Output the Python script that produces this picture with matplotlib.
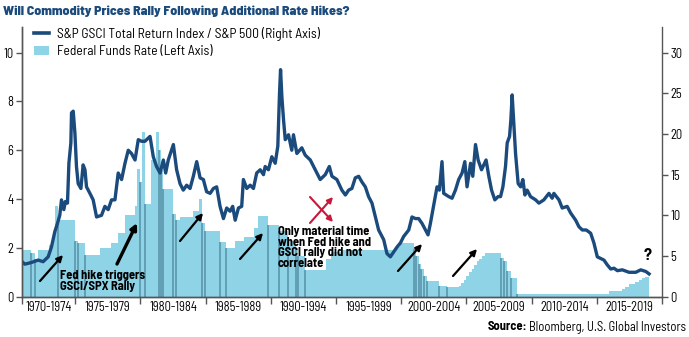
import numpy as np
import matplotlib.pyplot as plt
from matplotlib.patches import Patch
from matplotlib.lines import Line2D

plt.rcParams['font.family'] = ['Barlow Semi Condensed', 'Liberation Sans', 'DejaVu Sans']

# S&P GSCI TR / S&P 500 ratio (right axis)
ratio_year = [1970.93, 1971.14, 1971.64, 1972.16, 1972.54, 1972.93, 1973.18, 1973.44, 1973.64, 1973.82,
              1973.95, 1974.13, 1974.25, 1974.41, 1974.52, 1974.67, 1974.72, 1974.85, 1974.98, 1975.10,
              1975.23, 1975.44, 1975.61, 1975.75, 1975.87, 1976.13, 1976.38, 1976.64, 1977.02, 1977.28,
              1977.53, 1977.79, 1978.05, 1978.30, 1978.56, 1978.82, 1979.07, 1979.32, 1979.59, 1979.84,
              1980.09, 1980.35, 1980.74, 1980.99, 1981.24, 1981.51, 1981.76, 1981.94, 1982.14, 1982.53,
              1982.78, 1983.04, 1983.29, 1983.55, 1983.81, 1984.06, 1984.32, 1984.58, 1984.83, 1985.08,
              1985.35, 1985.60, 1985.85, 1986.11, 1986.37, 1986.62, 1986.88, 1987.08, 1987.27, 1987.52,
              1987.77, 1987.90, 1988.16, 1988.42, 1988.67, 1988.92, 1989.19, 1989.44, 1989.57, 1989.82,
              1990.08, 1990.34, 1990.54, 1990.67, 1990.75, 1990.85, 1990.98, 1991.11, 1991.36, 1991.61,
              1991.74, 1992.00, 1992.38, 1992.64, 1993.03, 1993.41, 1993.79, 1994.18, 1994.49, 1994.69,
              1995.07, 1995.45, 1995.72, 1995.97, 1996.22, 1996.48, 1996.74, 1996.99, 1997.25, 1997.50,
              1997.76, 1998.02, 1998.27, 1998.66, 1998.91, 1999.17, 1999.42, 1999.68, 1999.94, 2000.19,
              2000.58, 2000.83, 2001.09, 2001.34, 2001.60, 2001.86, 2002.06, 2002.24, 2002.50, 2002.75,
              2002.93, 2003.13, 2003.26, 2003.65, 2003.90, 2004.16, 2004.41, 2004.67, 2004.88, 2005.05,
              2005.32, 2005.49, 2005.70, 2005.90, 2006.16, 2006.51, 2006.72, 2006.93, 2007.18, 2007.43,
              2007.62, 2007.80, 2008.00, 2008.13, 2008.31, 2008.41, 2008.51, 2008.64, 2008.77, 2008.97,
              2009.16, 2009.33, 2009.49, 2009.66, 2009.92, 2010.31, 2010.56, 2010.94, 2011.33, 2011.58,
              2011.71, 2012.10, 2012.35, 2012.73, 2012.99, 2013.38, 2013.63, 2013.89, 2014.19, 2014.53,
              2014.78, 2015.04, 2015.30, 2015.55, 2015.81, 2016.07, 2016.32, 2016.58, 2016.96, 2017.47,
              2017.99, 2018.37, 2018.76, 2019.01]
ratio_val = [4.3, 4.0, 4.2, 4.5, 4.3, 4.9, 6.1, 8.0, 9.0, 10.0,
             11.9, 10.7, 11.7, 11.5, 16.4, 18.9, 22.6, 22.8, 20.1, 16.0,
             13.9, 13.3, 16.2, 15.6, 13.5, 12.7, 11.9, 9.8, 10.0, 11.1,
             10.7, 11.9, 11.9, 15.2, 14.4, 16.4, 18.0, 17.6, 16.8, 19.3,
             19.1, 19.1, 19.7, 17.2, 16.0, 15.2, 16.8, 15.2, 16.8, 18.7,
             15.6, 13.9, 13.1, 13.7, 13.3, 14.8, 16.6, 14.6, 14.4, 12.9,
             12.7, 13.3, 13.5, 11.1, 9.6, 10.9, 10.5, 11.1, 9.4, 10.9,
             11.1, 14.4, 13.3, 13.7, 13.3, 15.2, 15.6, 15.0, 16.0, 15.6,
             17.2, 16.4, 18.5, 25.0, 27.9, 24.6, 21.7, 19.3, 19.9, 18.0,
             19.9, 17.6, 18.3, 17.4, 16.8, 15.6, 14.4, 15.0, 16.0, 14.8,
             14.4, 13.1, 12.5, 13.1, 13.3, 14.6, 14.8, 14.1, 13.5, 12.3,
             11.5, 9.8, 8.2, 7.0, 5.3, 4.9, 5.5, 6.1, 6.6, 7.4,
             8.2, 9.8, 9.6, 9.6, 9.0, 8.2, 7.6, 9.0, 11.3, 13.5,
             13.1, 16.6, 12.7, 12.3, 12.1, 13.1, 14.4, 15.2, 16.6, 13.5,
             16.4, 14.8, 18.7, 16.8, 15.6, 16.8, 14.8, 13.1, 11.9, 12.3,
             12.3, 13.5, 16.0, 18.9, 19.7, 21.7, 24.8, 21.3, 17.6, 13.9,
             13.5, 14.4, 12.5, 13.1, 12.3, 11.9, 11.5, 11.9, 12.7, 12.1,
             12.7, 11.9, 10.9, 11.1, 10.3, 9.4, 8.6, 8.2, 8.2, 7.8,
             6.6, 4.9, 4.7, 4.5, 3.9, 3.4, 3.5, 3.2, 3.3, 3.0,
             3.0, 3.3, 3.1, 2.8]

# federal funds rate steps (left axis): start of each level and its value
fed_start = [1970.90, 1971.65, 1971.92, 1972.15, 1973.00, 1973.25, 1973.45, 1973.70, 1974.95, 1975.25,
             1975.75, 1976.90, 1977.75, 1978.30, 1978.80, 1979.55, 1979.75, 1979.95, 1980.15, 1980.35,
             1980.80, 1981.20, 1981.40, 1981.60, 1981.75, 1982.50, 1982.75, 1983.05, 1984.05, 1984.50,
             1984.70, 1984.95, 1986.10, 1986.55, 1987.25, 1987.95, 1988.75, 1989.05, 1989.82, 1990.60,
             1991.35, 1991.90, 1992.10, 1992.60, 1994.20, 1994.60, 1995.35, 1999.50, 1999.90, 2001.00,
             2001.15, 2001.35, 2001.55, 2001.75, 2001.95, 2002.90, 2003.50, 2004.45, 2004.60, 2004.80,
             2005.00, 2005.20, 2005.40, 2005.60, 2005.80, 2006.00, 2006.20, 2006.40, 2007.65, 2007.90,
             2008.10, 2008.40, 2008.90, 2015.95, 2016.95, 2017.20, 2017.45, 2017.95, 2018.20, 2018.45,
             2018.70]
fed_val = [1.90, 1.80, 1.55, 1.90, 2.10, 2.45, 3.70, 3.15, 2.30, 2.20,
           1.70, 2.00, 2.20, 2.60, 3.35, 3.70, 5.25, 4.70, 6.75, 3.80,
           5.60, 6.75, 6.00, 5.20, 4.40, 3.40, 3.15, 3.25, 3.50, 4.00,
           3.00, 2.70, 2.25, 2.00, 2.30, 2.45, 2.80, 3.30, 2.95, 2.70,
           2.30, 2.00, 1.65, 1.10, 1.55, 1.85, 1.90, 2.05, 2.20, 1.95,
           1.65, 1.35, 1.15, 0.85, 0.65, 0.44, 0.38, 0.42, 0.55, 0.70,
           0.85, 1.00, 1.15, 1.30, 1.45, 1.55, 1.65, 1.78, 1.60, 1.45,
           1.05, 0.75, 0.12, 0.22, 0.30, 0.40, 0.50, 0.60, 0.68, 0.75,
           0.82]
fed_end = 2019.0

period_labels = ["1970-1974", "1975-1979", "1980-1984", "1985-1989", "1990-1994",
                 "1995-1999", "2000-2004", "2005-2009", "2010-2014", "2015-2019"]

navy = "#1b4a7c"
light = "#8fd3e6"
dark = "#5f9ab0"
grey = "#555555"

fig = plt.figure(figsize=(6.89, 3.37), dpi=100)
ax = fig.add_axes([0.0315, 0.1196, 0.9293, 0.8004])
ax2 = ax.twinx()

starts = np.array(fed_start)
vals = np.array(fed_val)
widths = np.diff(np.append(starts, fed_end))
ax.bar(starts, vals, width=widths, align='edge', color=light, linewidth=0)
# darker streaks where the rate was cut
cut = np.r_[False, vals[1:] < vals[:-1]]
ax.vlines(starts[cut], 0, vals[cut], color=dark, linewidth=1.3)

ax2.plot(ratio_year, ratio_val, color=navy, linewidth=2.4, solid_joinstyle='round')

x0, x1 = 1970.9, 2020
ax.set_xlim(x0, x1)
ax.set_ylim(0, 11.05)
ax2.set_ylim(0, 33.15)

edges = [x0] + list(range(1975, 2020, 5)) + [x1]
ax.set_xticks(edges)
ax.set_xticklabels([])
mids = [(edges[i] + edges[i + 1]) / 2 for i in range(len(edges) - 1)]
ax.set_xticks(mids, minor=True)
ax.set_xticklabels(period_labels, minor=True, fontsize=9)
ax.tick_params(axis='x', which='major', length=5, width=1, color=grey, direction='out')
ax.tick_params(axis='x', which='minor', length=0, pad=3)

ax.set_yticks(range(0, 11, 2))
ax.tick_params(axis='y', length=4, width=1, color=grey, labelsize=9, pad=2)
ax2.set_yticks(range(0, 31, 5))
ax2.tick_params(axis='y', length=4, width=1, color=grey, labelsize=9, pad=2)

for a in (ax, ax2):
    a.spines['top'].set_visible(False)
    for s in ('left', 'right', 'bottom'):
        a.spines[s].set_color(grey)
        a.spines[s].set_linewidth(1)
ax.spines['right'].set_visible(False)

handles = [Line2D([], [], color=navy, linewidth=2.6),
           Patch(facecolor=light, edgecolor='none')]
labels = ["S&P GSCI Total Return Index / S&P 500 (Right Axis)", "Federal Funds Rate (Left Axis)"]
ax2.legend(handles, labels, loc='upper left', bbox_to_anchor=(34 / 689, 1 - 27 / 337),
           bbox_transform=fig.transFigure, frameon=False, fontsize=9.7, borderpad=0,
           borderaxespad=0, handlelength=1.15, handletextpad=0.55, labelspacing=0.3)

fig.text(3 / 689, 1 - 11.5 / 337, "Will Commodity Prices Rally Following Additional Rate Hikes?",
         fontsize=10.0, fontweight='heavy', color=navy, va='center', ha='left')

# annotations
fig.text(60, 337 - 270, "Fed hike triggers\nGSCI/SPX Rally", transform=None, fontsize=9,
         fontweight='bold', va='top', ha='left', linespacing=0.95)
fig.text(278, 337 - 226, "Only material time\nwhen Fed hike and\nGSCI rally did not\ncorrelate",
         transform=None, fontsize=9, fontweight='bold', va='top', ha='left', linespacing=0.95)
fig.text(648, 337 - 255, "?", transform=None, fontsize=12, fontweight='bold', va='center', ha='center')

arrows = [((40, 281), (63, 255), 1.6), ((117, 264), (137, 223), 2.4), ((180, 241), (203, 213), 1.6),
          ((240, 259), (263, 233), 1.6), ((398, 271), (422, 244), 1.6), ((453, 276), (477, 249), 1.6)]
for (xa, ya), (xb, yb), lw in arrows:
    ax.annotate("", xy=(xb, 337 - yb), xytext=(xa, 337 - ya), xycoords='figure pixels',
                textcoords='figure pixels',
                arrowprops=dict(arrowstyle='-|>', color='black', lw=lw, mutation_scale=9,
                                shrinkA=0, shrinkB=0))

red = "#c8173a"
for (xa, ya), (xb, yb) in [((310, 197), (333, 222)), ((310, 223), (333, 197))]:
    ax.annotate("", xy=(xb, 337 - yb), xytext=(xa, 337 - ya), xycoords='figure pixels',
                textcoords='figure pixels',
                arrowprops=dict(arrowstyle='-|>', color=red, lw=1.5, mutation_scale=8,
                                shrinkA=0, shrinkB=0))

fig.canvas.draw()
r = fig.canvas.get_renderer()
t1 = fig.text(686, 337 - 327, "Bloomberg, U.S. Global Investors", transform=None,
              fontsize=9, ha='right', va='center')
w = t1.get_window_extent(r).width
fig.text(686 - w - 2, 337 - 327, "Source:", transform=None, fontsize=9, fontweight='bold',
         ha='right', va='center')

fig.savefig("out.png", dpi=100)
